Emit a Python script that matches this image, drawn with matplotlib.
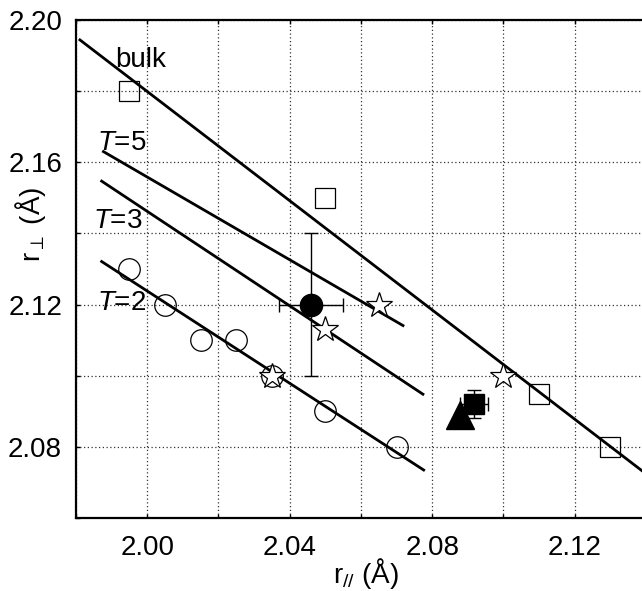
import numpy as np
import matplotlib
matplotlib.use("Agg")
import matplotlib.pyplot as plt
from matplotlib.ticker import MultipleLocator

plt.rcParams['font.family'] = ['Liberation Sans', 'DejaVu Sans']
plt.rcParams['mathtext.fontset'] = 'custom'
plt.rcParams['mathtext.rm'] = 'Liberation Sans'
plt.rcParams['mathtext.it'] = 'Liberation Sans:italic'
plt.rcParams['mathtext.bf'] = 'Liberation Sans:bold'

# fitted lines (x ends, y ends)
bulk_x = [1.9811, 2.145]
bulk_y = [2.1944, 2.0686]
t5_x = [1.9877, 2.0718]
t5_y = [2.1630, 2.1141]
t3_x = [1.9872, 2.0774]
t3_y = [2.1547, 2.0948]
t2_x = [1.9872, 2.0776]
t2_y = [2.1321, 2.0735]

# open squares (bulk)
sq_x = [1.995, 2.05, 2.11, 2.13]
sq_y = [2.18, 2.15, 2.095, 2.08]

# open circles (T=2)
circ_x = [1.995, 2.005, 2.015, 2.025, 2.035, 2.05, 2.07]
circ_y = [2.13, 2.12, 2.11, 2.11, 2.10, 2.09, 2.08]

# open stars
star_x = [2.035, 2.05, 2.065, 2.10]
star_y = [2.10, 2.113, 2.12, 2.10]

# filled circle with error bars
fc_x, fc_y, fc_xerr, fc_yerr = 2.046, 2.12, 0.009, 0.02
# filled square with error bars
fs_x, fs_y, fs_xerr, fs_yerr = 2.0917, 2.092, 0.004, 0.004
# filled triangle
tri_x, tri_y = 2.0878, 2.0889

fig = plt.figure(figsize=(6.42, 5.91), dpi=100)
ax = fig.add_axes([0.1184, 0.1235, 0.8816, 0.8427])

for xs, ys in [(bulk_x, bulk_y), (t5_x, t5_y), (t3_x, t3_y), (t2_x, t2_y)]:
    ax.plot(xs, ys, color='black', lw=2.0, zorder=3)

ax.plot(sq_x, sq_y, ls='none', marker='s', ms=14, mfc='none', mec='black', mew=0.9, zorder=4)
ax.plot(circ_x, circ_y, ls='none', marker='o', ms=15.5, mfc='none', mec='black', mew=0.9, zorder=4)
ax.plot(star_x, star_y, ls='none', marker='*', ms=19, mfc='white', mec='black', mew=0.9, zorder=5)

ax.errorbar(fc_x, fc_y, xerr=fc_xerr, yerr=fc_yerr, fmt='o', ms=16, color='black',
            elinewidth=1.0, capsize=5, capthick=1.0, zorder=6)
ax.errorbar(fs_x, fs_y, xerr=fs_xerr, yerr=fs_yerr, fmt='s', ms=14, color='black',
            elinewidth=1.0, capsize=5, capthick=1.0, zorder=6)
ax.plot(tri_x, tri_y, ls='none', marker='^', ms=20, color='black', zorder=6)

ax.text(1.9909, 2.1868, 'bulk', fontsize=20)
ax.text(1.9858, 2.1635, '$T$=5', fontsize=20)
ax.text(1.9847, 2.1415, '$T$=3', fontsize=20)
ax.text(1.9858, 2.1185, '$T$=2', fontsize=20)

ax.set_xlim(1.98, 2.1389)
ax.set_ylim(2.06, 2.20)
ax.xaxis.set_major_locator(MultipleLocator(0.04))
ax.xaxis.set_minor_locator(MultipleLocator(0.02))
ax.yaxis.set_major_locator(MultipleLocator(0.04))
ax.yaxis.set_minor_locator(MultipleLocator(0.02))
ax.xaxis.set_major_formatter(plt.FormatStrFormatter('%.2f'))
ax.yaxis.set_major_formatter(plt.FormatStrFormatter('%.2f'))
ax.grid(True, which='both', ls=(0, (1, 2)), lw=0.9, color='#333333')
ax.tick_params(which='both', direction='in', length=3, width=1, top=True, right=False,
               labelsize=20)
ax.tick_params(axis='x', pad=12)
ax.tick_params(axis='y', pad=10)

for side in ['left', 'bottom', 'top']:
    ax.spines[side].set_linewidth(1.6)
ax.spines['right'].set_visible(False)

ax.set_xlabel(r'r$_{//}$ (Å)', fontsize=20)
ax.set_ylabel(r'r$_{\perp}$ (Å)', fontsize=20)
ax.xaxis.set_label_coords(0.512, -0.077)
ax.yaxis.set_label_coords(-0.05, 0.59)

fig.savefig('out.png', dpi=100)
